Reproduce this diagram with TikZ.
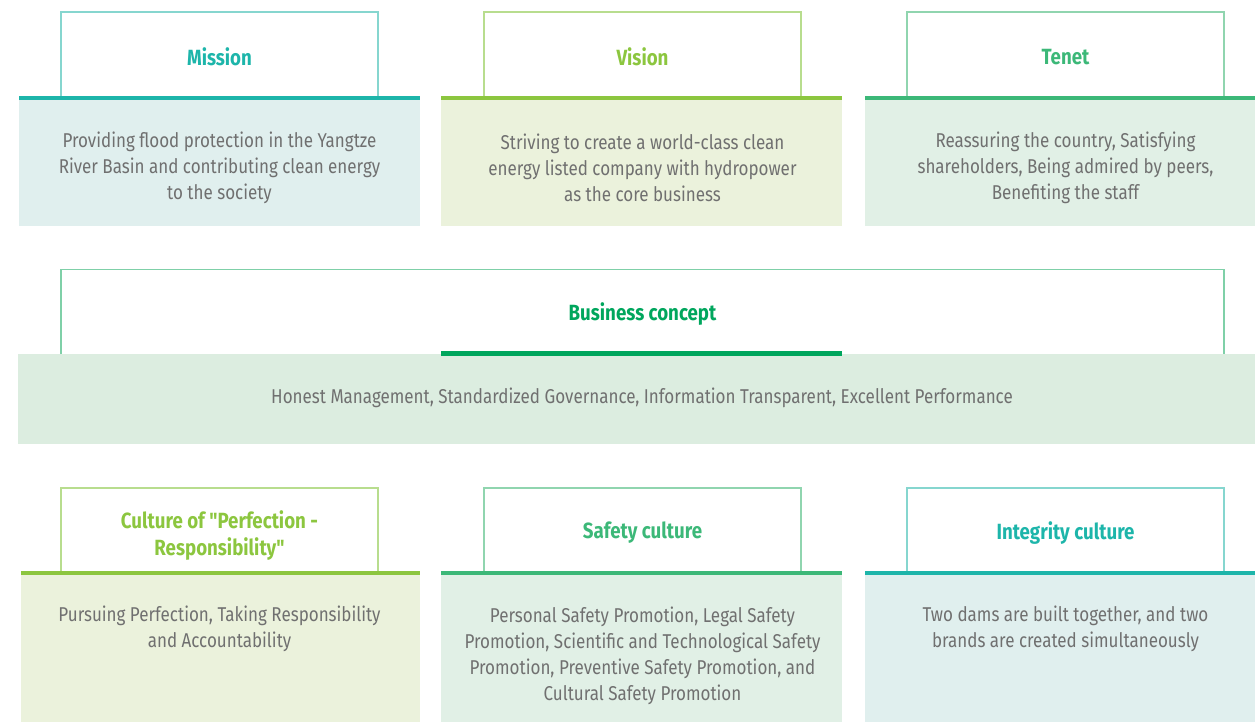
\documentclass[tikz,border=0pt]{standalone}
\usepackage{fontspec}
\setmainfont{Fira Sans}[FakeStretch=0.85]
\newfontfamily\quotefont{Fira Sans}[FakeStretch=0.85]
\newcommand{\sq}{{\quotefont\char34}}
\definecolor{teal}{HTML}{1DB5AA}
\definecolor{tealline}{HTML}{86D6CF}
\definecolor{tealfill}{HTML}{E0EFEE}
\definecolor{lime}{HTML}{8CC63F}
\definecolor{limeline}{HTML}{B8DD8E}
\definecolor{limefill}{HTML}{EBF2DC}
\definecolor{grn}{HTML}{3CB878}
\definecolor{grnline}{HTML}{90D5AF}
\definecolor{grnfill}{HTML}{E1F0E6}
\definecolor{dgrn}{HTML}{00A65D}
\definecolor{dgrnline}{HTML}{7FD0A8}
\definecolor{dgrnfill}{HTML}{DCEDE0}
\definecolor{txtgray}{HTML}{707070}
\begin{document}
\begin{tikzpicture}[x=0.75pt,y=-0.75pt,
  body/.style={text=txtgray, font=\fontsize{15}{19.5}\selectfont, align=center, inner sep=0pt},
  title/.style={font=\fontsize{16.5}{20.25}\selectfont\bfseries, align=center, inner sep=0pt},
  outline/.style={line width=0.9pt}]
\useasboundingbox (0,0) rectangle (1255,722);
% ---------- top row ----------
% Mission
\fill[tealfill] (19,100) rectangle (420,226);
\fill[teal] (19,96) rectangle (420,100);
\draw[outline, tealline] (61,96) -- (61,12) -- (378,12) -- (378,96);
\node[title, text=teal] (mission) at (219.5,57) {Mission};
\node[body] (missionbody) at (219.5,168) {Providing flood protection in the Yangtze\\River Basin and contributing clean energy\\to the society};
% Vision
\fill[limefill] (441,100) rectangle (842,226);
\fill[lime] (441,96) rectangle (842,100);
\draw[outline, limeline] (484,96) -- (484,12) -- (801,12) -- (801,96);
\node[title, text=lime] (vision) at (642.5,57) {Vision};
\node[body] (visionbody) at (642.5,168) {Striving to create a world-class clean\\energy listed company with hydropower\\as the core business};
% Tenet
\fill[grnfill] (865,100) rectangle (1255,226);
\fill[grn] (865,96) rectangle (1255,100);
\draw[outline, grnline] (907,96) -- (907,12) -- (1224,12) -- (1224,96);
\node[title, text=grn] (tenet) at (1065.5,57) {Tenet};
\node[body] (tenetbody) at (1065.5,168) {Reassuring the country, Satisfying\\shareholders, Being admired by peers,\\Benefiting the staff};
% ---------- business concept ----------
\fill[dgrnfill] (18,354) rectangle (1255,444);
\draw[outline, dgrnline] (61,354) -- (61,269.5) -- (1224,269.5) -- (1224,354);
\fill[dgrn] (441,351) rectangle (842,356);
\node[title, text=dgrn] (business) at (642.5,314) {Business concept};
\node[body] (businessbody) at (642,398) {Honest Management, Standardized Governance, Information Transparent, Excellent Performance};
% ---------- bottom row ----------
% Culture
\fill[limefill] (21,575) rectangle (420,722);
\fill[lime] (21,571) rectangle (420,575);
\draw[outline, limeline] (61,571) -- (61,488) -- (378,488) -- (378,571);
\node[title, text=lime] (culture) at (219.5,535.5) {Culture of \sq Perfection -\\Responsibility\sq};
\node[body] (culturebody) at (219.5,629) {Pursuing Perfection, Taking Responsibility\\and Accountability};
% Safety
\fill[grnfill] (441,575) rectangle (842,722);
\fill[grn] (441,571) rectangle (842,575);
\draw[outline, grnline] (484,571) -- (484,488) -- (801,488) -- (801,571);
\node[title, text=grn] (safety) at (642.5,533) {Safety culture};
\node[body] (safetybody) at (642.5,656) {Personal Safety Promotion, Legal Safety\\Promotion, Scientific and Technological Safety\\Promotion, Preventive Safety Promotion, and\\Cultural Safety Promotion};
% Integrity
\fill[tealfill] (865,575) rectangle (1255,722);
\fill[teal] (865,571) rectangle (1255,575);
\draw[outline, tealline] (907,571) -- (907,488) -- (1224,488) -- (1224,571);
\node[title, text=teal] (integrity) at (1065.5,533) {Integrity culture};
\node[body] (integritybody) at (1065.5,629) {Two dams are built together, and two\\brands are created simultaneously};
\end{tikzpicture}
\end{document}
